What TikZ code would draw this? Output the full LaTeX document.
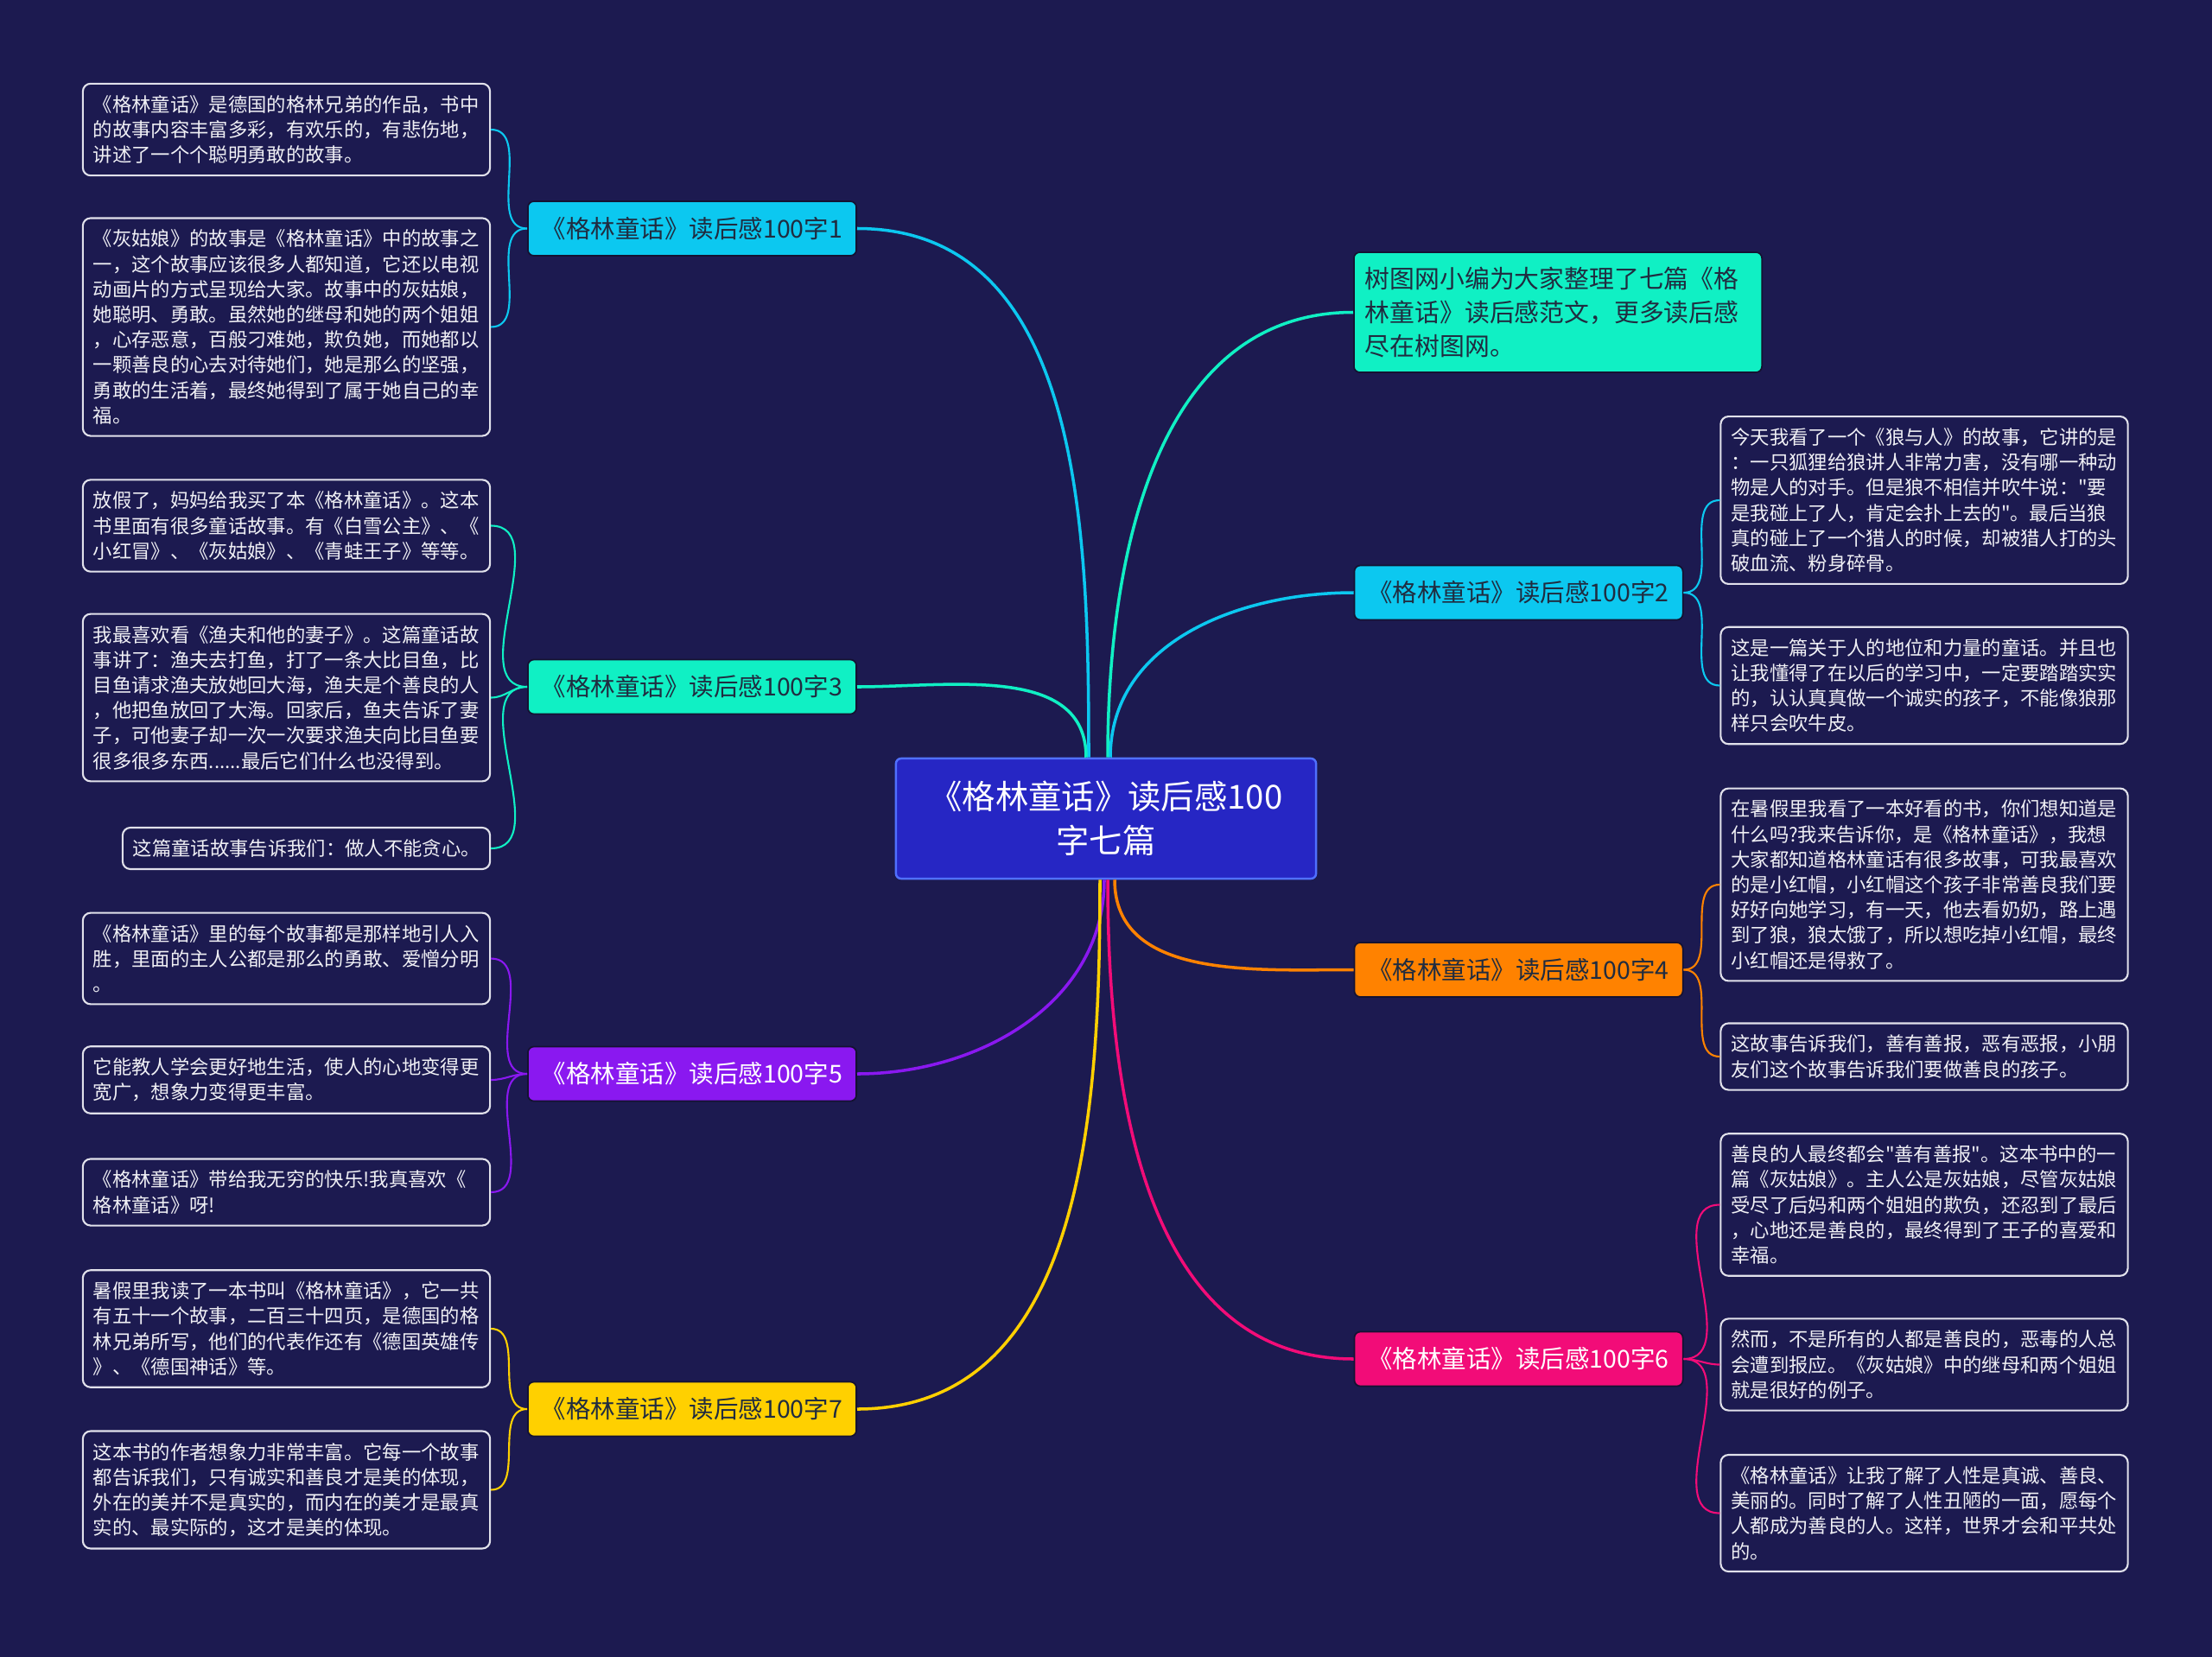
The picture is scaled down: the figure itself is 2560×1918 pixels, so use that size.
\documentclass[tikz,border=0pt]{standalone}
\usepackage{fontspec}
\setmainfont{Noto Sans CJK SC}[Ligatures=TeXOff]
\definecolor{navy}{RGB}{28,26,80}
\definecolor{rootfill}{RGB}{38,38,196}
\definecolor{rootline}{RGB}{80,112,255}
\definecolor{leafline}{RGB}{225,225,235}
\definecolor{leaftext}{RGB}{240,240,245}
\definecolor{darktext}{RGB}{32,44,64}
\definecolor{boxline}{RGB}{20,18,50}
\definecolor{cyanc}{RGB}{12,200,240}
\definecolor{greenc}{RGB}{16,240,196}
\definecolor{orangec}{RGB}{255,130,0}
\definecolor{purplec}{RGB}{138,24,240}
\definecolor{pinkc}{RGB}{242,12,120}
\definecolor{yellowc}{RGB}{255,208,0}

\begin{document}
\begin{tikzpicture}[
    x=0.01cm, y=-0.01cm,
    root_node/.style={rectangle, rounded corners=0.06cm, draw=rootline, line width=0.7pt, fill=rootfill, text=white, minimum width=4.86cm, minimum height=1.39cm, align=center, font=\fontsize{10.9pt}{14.4pt}\selectfont},
    branch_node/.style={rectangle, rounded corners=0.07cm, draw=boxline, line width=0.5pt, minimum width=3.8cm, minimum height=0.63cm, inner sep=0pt, text=darktext, font=\fontsize{8.1pt}{10pt}\selectfont},
    intro_node/.style={rectangle, rounded corners=0.07cm, draw=boxline, line width=0.5pt, fill=greenc, text=darktext, text width=4.46cm, inner xsep=0.13cm, minimum height=1.39cm, align=left, font=\fontsize{8.2pt}{11.2pt}\selectfont},
    leaf_node/.style={rectangle, rounded corners=0.09cm, draw=leafline, line width=0.6pt, fill=navy, text=leaftext, text width=4.47cm, inner xsep=0.12cm, inner ysep=0.135cm, align=left, font=\fontsize{6.35pt}{8.3pt}\selectfont},
    main_link/.style={line width=1pt},
    leaf_link/.style={line width=0.6pt}
]
        \fill[navy] (0,0) rectangle (2560,1918);

        \node[root_node] (root) at (1280,947.5) {《格林童话》读后感100\\字七篇};

        \node[branch_node, fill=cyanc] (b1) at (801,264.5) {《格林童话》读后感100字1};
        \node[branch_node, fill=greenc] (b3) at (801,795) {《格林童话》读后感100字3};
        \node[branch_node, fill=purplec, text=white] (b5) at (801,1243) {《格林童话》读后感100字5};
        \node[branch_node, fill=yellowc] (b7) at (801,1631) {《格林童话》读后感100字7};
        \node[intro_node] (intro) at (1803,361.5) {树图网小编为大家整理了七篇《格\\林童话》读后感范文，更多读后感\\尽在树图网。};
        \node[branch_node, fill=cyanc] (b2) at (1757.5,686) {《格林童话》读后感100字2};
        \node[branch_node, fill=orangec] (b4) at (1757.5,1122.5) {《格林童话》读后感100字4};
        \node[branch_node, fill=pinkc, text=white] (b6) at (1757.5,1573) {《格林童话》读后感100字6};

        \node[leaf_node] (l1a) at (331.5,150) {《格林童话》是德国的格林兄弟的作品，书中\\的故事内容丰富多彩，有欢乐的，有悲伤地，\\讲述了一个个聪明勇敢的故事。};
        \node[leaf_node] (l1b) at (331.5,378.5) {《灰姑娘》的故事是《格林童话》中的故事之\\一，这个故事应该很多人都知道，它还以电视\\动画片的方式呈现给大家。故事中的灰姑娘，\\她聪明、勇敢。虽然她的继母和她的两个姐姐\\，心存恶意，百般刁难她，欺负她，而她都以\\一颗善良的心去对待她们，她是那么的坚强，\\勇敢的生活着，最终她得到了属于她自己的幸\\福。};
        \node[leaf_node] (l3a) at (331.5,608.5) {放假了，妈妈给我买了本《格林童话》。这本\\书里面有很多童话故事。有《白雪公主》、《\\小红冒》、《灰姑娘》、《青蛙王子》等等。};
        \node[leaf_node] (l3b) at (331.5,807.5) {我最喜欢看《渔夫和他的妻子》。这篇童话故\\事讲了：渔夫去打鱼，打了一条大比目鱼，比\\目鱼请求渔夫放她回大海，渔夫是个善良的人\\，他把鱼放回了大海。回家后，鱼夫告诉了妻\\子，可他妻子却一次一次要求渔夫向比目鱼要\\很多很多东西......最后它们什么也没得到。};
        \node[leaf_node, text width=4.01cm] (l3c) at (354.5,982) {这篇童话故事告诉我们：做人不能贪心。};
        \node[leaf_node] (l5a) at (331.5,1109.5) {《格林童话》里的每个故事都是那样地引人入\\胜，里面的主人公都是那么的勇敢、爱憎分明\\。};
        \node[leaf_node] (l5b) at (331.5,1250) {它能教人学会更好地生活，使人的心地变得更\\宽广，想象力变得更丰富。};
        \node[leaf_node] (l5c) at (331.5,1380) {《格林童话》带给我无穷的快乐!我真喜欢《\\格林童话》呀!};
        \node[leaf_node] (l7a) at (331.5,1538) {暑假里我读了一本书叫《格林童话》，它一共\\有五十一个故事，二百三十四页，是德国的格\\林兄弟所写，他们的代表作还有《德国英雄传\\》、《德国神话》等。};
        \node[leaf_node] (l7b) at (331.5,1724.5) {这本书的作者想象力非常丰富。它每一个故事\\都告诉我们，只有诚实和善良才是美的体现，\\外在的美并不是真实的，而内在的美才是最真\\实的、最实际的，这才是美的体现。};

        \node[leaf_node] (r2a) at (2227,579) {今天我看了一个《狼与人》的故事，它讲的是\\：一只狐狸给狼讲人非常力害，没有哪一种动\\物是人的对手。但是狼不相信并吹牛说："要\\是我碰上了人，肯定会扑上去的"。最后当狼\\真的碰上了一个猎人的时候，却被猎人打的头\\破血流、粉身碎骨。};
        \node[leaf_node] (r2b) at (2227,793.5) {这是一篇关于人的地位和力量的童话。并且也\\让我懂得了在以后的学习中，一定要踏踏实实\\的，认认真真做一个诚实的孩子，不能像狼那\\样只会吹牛皮。};
        \node[leaf_node] (r4a) at (2227,1024) {在暑假里我看了一本好看的书，你们想知道是\\什么吗?我来告诉你，是《格林童话》，我想\\大家都知道格林童话有很多故事，可我最喜欢\\的是小红帽，小红帽这个孩子非常善良我们要\\好好向她学习，有一天，他去看奶奶，路上遇\\到了狼，狼太饿了，所以想吃掉小红帽，最终\\小红帽还是得救了。};
        \node[leaf_node] (r4b) at (2227,1223) {这故事告诉我们，善有善报，恶有恶报，小朋\\友们这个故事告诉我们要做善良的孩子。};
        \node[leaf_node] (r6a) at (2227,1394.5) {善良的人最终都会"善有善报"。这本书中的一\\篇《灰姑娘》。主人公是灰姑娘，尽管灰姑娘\\受尽了后妈和两个姐姐的欺负，还忍到了最后\\，心地还是善良的，最终得到了王子的喜爱和\\幸福。};
        \node[leaf_node] (r6b) at (2227,1579.5) {然而，不是所有的人都是善良的，恶毒的人总\\会遭到报应。《灰姑娘》中的继母和两个姐姐\\就是很好的例子。};
        \node[leaf_node] (r6c) at (2227,1751.5) {《格林童话》让我了解了人性是真诚、善良、\\美丽的。同时了解了人性丑陋的一面，愿每个\\人都成为善良的人。这样，世界才会和平共处\\的。};

    \draw [main_link, cyanc] (b1.east) to[out=0, in=90] ([xshift=-0.2cm]root.north);
    \draw [main_link, greenc] (b3.east) to[out=0, in=90] ([xshift=-0.23cm]root.north);
    \draw [main_link, greenc] ([xshift=0.02cm]root.north) to[out=90, in=180] (intro.west);
    \draw [main_link, cyanc] ([xshift=0.05cm]root.north) to[out=90, in=180] (b2.west);
    \draw [main_link, purplec] ([xshift=-0.02cm]root.south) to[out=-90, in=0] (b5.east);
    \draw [main_link, yellowc] ([xshift=-0.07cm]root.south) to[out=-90, in=0] (b7.east);
    \draw [main_link, orangec] ([xshift=0.1cm]root.south) to[out=-90, in=180] (b4.west);
    \draw [main_link, pinkc] ([xshift=0.02cm]root.south) to[out=-90, in=180] (b6.west);

    \draw [leaf_link, cyanc] (b1.west) to[out=180, in=0] (l1a.east);
    \draw [leaf_link, cyanc] (b1.west) to[out=180, in=0] (l1b.east);
    \draw [leaf_link, greenc] (b3.west) to[out=180, in=0] (l3a.east);
    \draw [leaf_link, greenc] (b3.west) to[out=180, in=0] (l3b.east);
    \draw [leaf_link, greenc] (b3.west) to[out=180, in=0] (l3c.east);
    \draw [leaf_link, purplec] (b5.west) to[out=180, in=0] (l5a.east);
    \draw [leaf_link, purplec] (b5.west) to[out=180, in=0] (l5b.east);
    \draw [leaf_link, purplec] (b5.west) to[out=180, in=0] (l5c.east);
    \draw [leaf_link, yellowc] (b7.west) to[out=180, in=0] (l7a.east);
    \draw [leaf_link, yellowc] (b7.west) to[out=180, in=0] (l7b.east);
    \draw [leaf_link, cyanc] (b2.east) to[out=0, in=180] (r2a.west);
    \draw [leaf_link, cyanc] (b2.east) to[out=0, in=180] (r2b.west);
    \draw [leaf_link, orangec] (b4.east) to[out=0, in=180] (r4a.west);
    \draw [leaf_link, orangec] (b4.east) to[out=0, in=180] (r4b.west);
    \draw [leaf_link, pinkc] (b6.east) to[out=0, in=180] (r6a.west);
    \draw [leaf_link, pinkc] (b6.east) to[out=0, in=180] (r6b.west);
    \draw [leaf_link, pinkc] (b6.east) to[out=0, in=180] (r6c.west);

    \end{tikzpicture}
\end{document}
